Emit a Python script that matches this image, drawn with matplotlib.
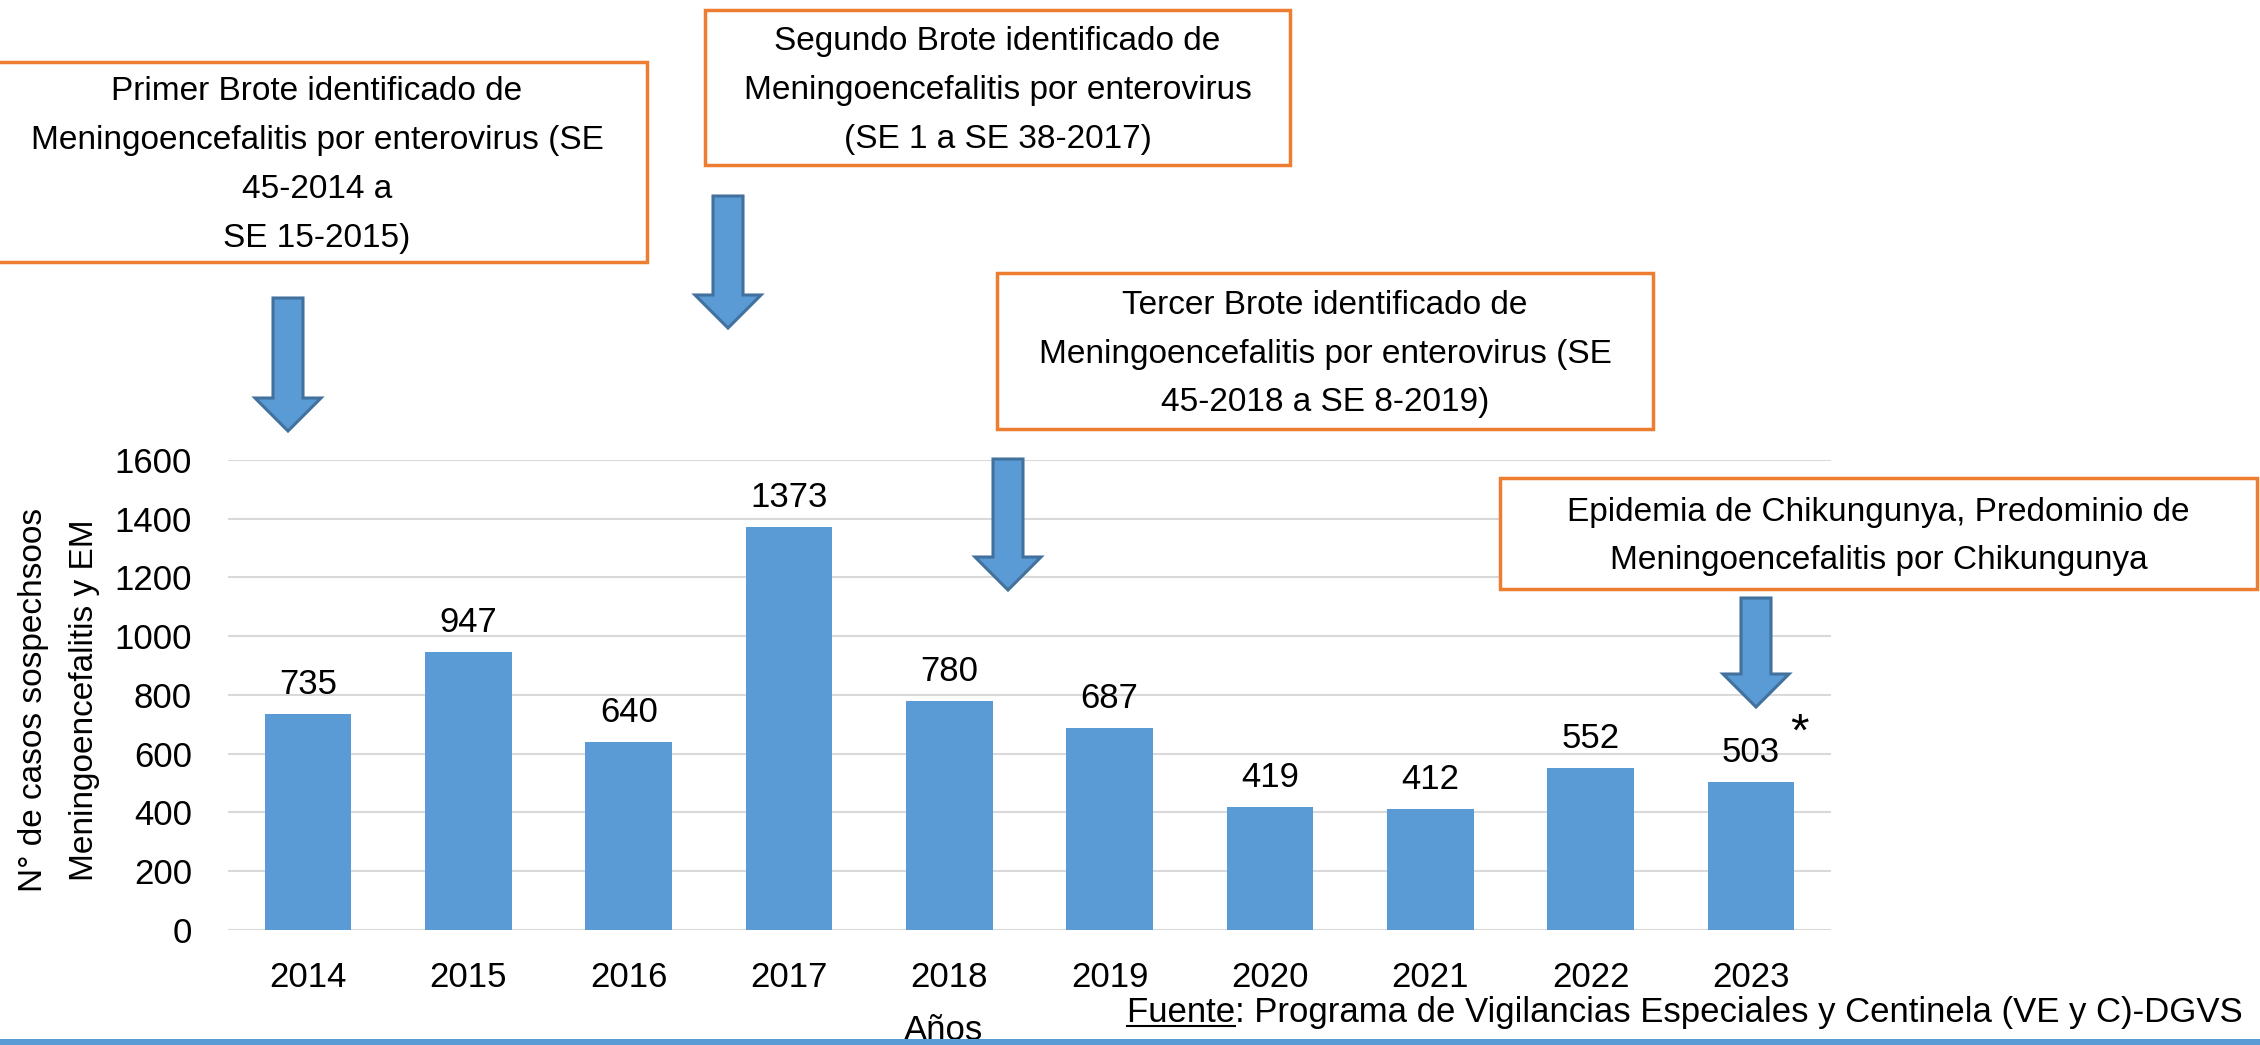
import matplotlib
matplotlib.use('Agg')
import matplotlib.pyplot as plt
from matplotlib.patches import Rectangle, Polygon

plt.rcParams['font.family'] = 'Liberation Sans'

# Data
years = ['2014', '2015', '2016', '2017', '2018', '2019', '2020', '2021', '2022', '2023']
cases = [735, 947, 640, 1373, 780, 687, 419, 412, 552, 503]
y_ticks = [0, 200, 400, 600, 800, 1000, 1200, 1400, 1600]

notes = [
    'Primer Brote identificado de\nMeningoencefalitis por enterovirus (SE\n45-2014 a\nSE 15-2015)',
    'Segundo Brote identificado de\nMeningoencefalitis por enterovirus\n(SE 1 a SE 38-2017)',
    'Tercer Brote identificado de\nMeningoencefalitis por enterovirus (SE\n45-2018 a SE 8-2019)',
    'Epidemia de Chikungunya, Predominio de\nMeningoencefalitis por Chikungunya',
]
source_text = 'Fuente: Programa de Vigilancias Especiales y Centinela (VE y C)-DGVS'

bar_color = '#5B9BD5'
W, H = 2260, 1045

fig = plt.figure(figsize=(22.6, 10.45), dpi=100)

# Main chart
ax = fig.add_axes([228 / W, 1 - 929.6 / H, (1831 - 228) / W, (929.6 - 460) / H])
x = list(range(len(years)))
ax.bar(x, cases, width=0.54, color=bar_color, zorder=2)
ax.set_xlim(-0.5, len(years) - 0.5)
ax.set_ylim(0, 1600)
ax.set_yticks(y_ticks)
ax.set_xticks(x)
ax.set_xticklabels(years)
ax.yaxis.grid(True, color='#D9D9D9', lw=1.5)
ax.set_axisbelow(True)
for s in ax.spines.values():
    s.set_visible(False)
ax.tick_params(axis='y', length=0, pad=25.9, labelsize=25)
ax.tick_params(axis='x', length=0, pad=22.5, labelsize=25)

for i, v in enumerate(cases):
    ax.annotate(str(v), (i, v), xytext=(0, 14.4), textcoords='offset points',
                ha='center', va='baseline', fontsize=25)
# asterisk on the last year
ax.annotate('*', (len(cases) - 1, cases[-1]), xytext=(35.3, 26), textcoords='offset points',
            ha='center', va='baseline', fontsize=34)

# Overlay in pixel coordinates for the boxes, arrows and texts
ov = fig.add_axes([0, 0, 1, 1], zorder=5)
ov.set_xlim(0, W)
ov.set_ylim(H, 0)
ov.axis('off')
ov.patch.set_visible(False)

# (left, right, top, bottom)
boxes = [(-13, 647, 62, 262), (705, 1290, 10, 165), (997, 1653, 273, 429), (1500, 2257, 478, 589)]
for (l, r, t, b), txt in zip(boxes, notes):
    ov.add_patch(Rectangle((l, t), r - l, b - t, facecolor='white', edgecolor='#ED7D31', lw=2.5))
    ov.text((l + r) / 2, (t + b) / 2 + 3, txt, ha='center', va='center', fontsize=24, linespacing=1.75)

# (center x, top, tip)
arrows = [(288, 298, 431), (728, 196, 328), (1008, 459, 590), (1756, 598, 707)]
for cx, top, tip in arrows:
    hs, hh, hl = 15, 33, 33
    base = tip - hl
    pts = [(cx - hs, top), (cx + hs, top), (cx + hs, base), (cx + hh, base),
           (cx, tip), (cx - hh, base), (cx - hs, base)]
    ov.add_patch(Polygon(pts, closed=True, facecolor=bar_color, edgecolor='#41719C', lw=2.2))

# y axis title
ov.text(59, 700, 'N° de casos sospechsoos\nMeningoencefalitis y EM', rotation=90,
        ha='center', va='center', fontsize=24, linespacing=1.85)

# x axis title
ov.text(944, 1040, 'Años', ha='center', va='baseline', fontsize=25)

# source with underlined "Fuente"
src_y = 1022
src = ov.text(2243, src_y, source_text, ha='right', va='baseline', fontsize=25)
fig.canvas.draw()
rend = fig.canvas.get_renderer()
bb = src.get_window_extent(rend)
word = ov.text(bb.x0, src_y, 'Fuente', ha='left', va='baseline', fontsize=25, alpha=0)
wb = word.get_window_extent(rend)
ov.plot([wb.x0, wb.x1], [src_y + 4, src_y + 4], color='black', lw=1.5)

# bottom blue line
ov.add_patch(Rectangle((0, 1039), W, 8, facecolor=bar_color, edgecolor='none', zorder=10))

fig.savefig('out.png', dpi=100)
